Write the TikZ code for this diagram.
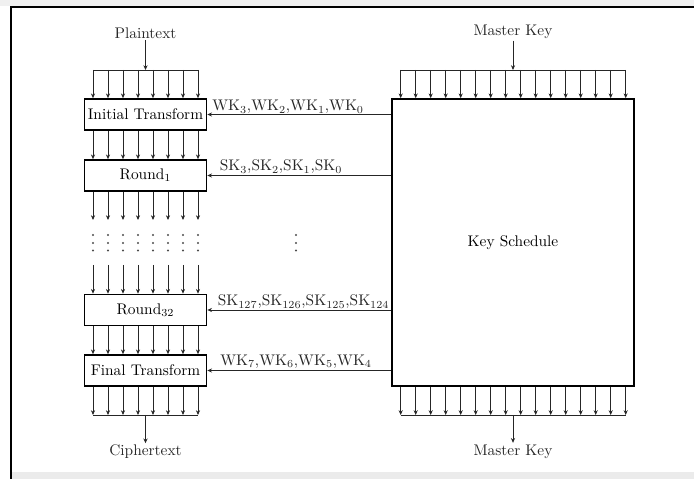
\documentclass[tikz,border=0pt]{standalone}
\usetikzlibrary{arrows.meta}
\tikzset{
  u/.style={x=0.65pt,y=-0.65pt},
  thin line/.style={line width=0.5pt,draw=black!85},
  arr/.style={thin line,-{Stealth[length=3.1pt,width=2.7pt]}},
  box/.style={draw,line width=1.05pt,minimum width=122*0.65pt,minimum height=31*0.65pt,inner sep=0pt},
  lbl/.style={anchor=base west,inner sep=0pt,text=black!85},
  txt/.style={inner sep=1pt,text=black!85}
}
\begin{document}
\begin{tikzpicture}[u]
\useasboundingbox (0,0) rectangle (694,479);
% screenshot frame
\fill[black!6] (0,0) rectangle (694,6);
\fill[black!8] (12,472) rectangle (694,479);
\draw[line width=1.2pt] (694,7) -- (11,7) -- (11,479);

% left column
\node[txt] (pt) at (145.5,33) {Plaintext};
\node[box] (init) at (145.5,114.5) {Initial Transform};
\node[box] (r1) at (145.5,175.5) {Round$_1$};
\node[box] (r32) at (145.5,310) {Round$_{32}$};
\node[box] (fin) at (145.5,370.5) {Final Transform};
\node[txt] (ct) at (145.5,452) {Ciphertext};

% key schedule
\node[box,minimum width=242*0.65pt,minimum height=287*0.65pt] (ks) at (513,242.5) {Key Schedule};
\node[txt] (mk1) at (513,32) {Master Key};
\node[txt] (mk2) at (513,451.5) {Master Key};

% plaintext fan
\coordinate (pbar) at (145.5,70);
\draw[arr] (pt) -- (pbar);
\draw[thin line] (93,70) -- (198,70);
\foreach \i in {0,...,7}{
  \pgfmathsetmacro\x{93+15*\i}
  \draw[arr] (\x,70) -- (\x,0 |- init.north);
  \draw[arr] (\x,0 |- init.south) -- (\x,0 |- r1.north);
  \draw[arr] (\x,0 |- r1.south) -- (\x,220);
  \foreach \y in {235,243,250.5}{\fill[black!70] (\x,\y) circle (0.75pt);}
  \draw[arr] (\x,265) -- (\x,0 |- r32.north);
  \draw[arr] (\x,0 |- r32.south) -- (\x,0 |- fin.north);
  \draw[arr] (\x,0 |- fin.south) -- (\x,415);
}
\draw[thin line] (93,415) -- (198,415);
\coordinate (cbar) at (145.5,415);
\draw[arr] (cbar) -- (ct);

% middle dots
\foreach \y in {235,243,250.5}{\fill[black!70] (296,\y) circle (0.75pt);}

% master key fans
\coordinate (kbar1) at (513,70);
\coordinate (kbar2) at (513,415);
\draw[arr] (mk1) -- (kbar1);
\draw[thin line] (400.7,70) -- (625.7,70);
\draw[thin line] (400.7,415) -- (625.7,415);
\foreach \i in {0,...,15}{
  \pgfmathsetmacro\x{400.7+15*\i}
  \draw[arr] (\x,70) -- (\x,0 |- ks.north);
  \draw[arr] (\x,0 |- ks.south) -- (\x,415);
}
\draw[arr] (kbar2) -- (mk2);

% subkey connectors
\draw[arr] (ks.west |- init.east) -- (init.east);
\draw[arr] (ks.west |- r1.east) -- (r1.east);
\draw[arr] (ks.west |- r32.east) -- (r32.east);
\draw[arr] (ks.west |- fin.east) -- (fin.east);
\node[lbl] (l1) at (212,110.7) {WK$_3$,WK$_2$,WK$_1$,WK$_0$};
\node[lbl] (l2) at (219.5,171) {SK$_3$,SK$_2$,SK$_1$,SK$_0$};
\node[lbl] (l3) at (217.5,306) {SK$_{127}$,SK$_{126}$,SK$_{125}$,SK$_{124}$};
\node[lbl] (l4) at (220,365.5) {WK$_7$,WK$_6$,WK$_5$,WK$_4$};
\end{tikzpicture}
\end{document}
